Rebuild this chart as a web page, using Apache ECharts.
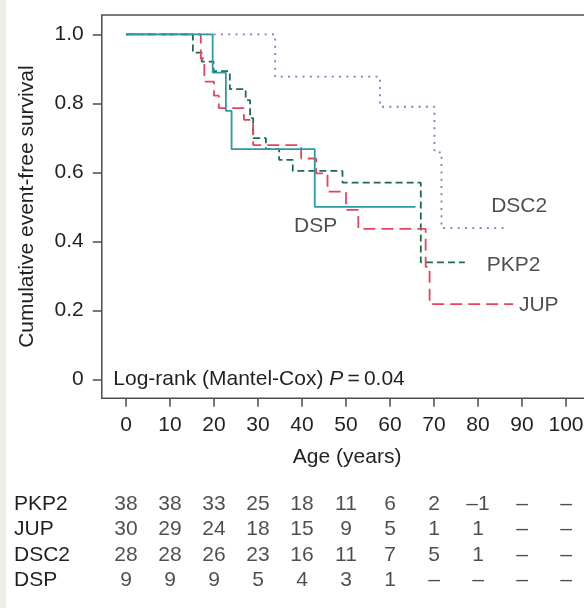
<!DOCTYPE html>
<html><head><meta charset="utf-8">
<script src="https://cdn.jsdelivr.net/npm/echarts@6/dist/echarts.min.js"></script>
<style>html,body{margin:0;padding:0;background:#fff}#c{width:584px;height:608px}</style>
</head><body><div id="c"></div>
<script>
// ---- data ----
const xTicks = [0, 10, 20, 30, 40, 50, 60, 70, 80, 90, 100];
const yTicks = [0, 0.2, 0.4, 0.6, 0.8, 1.0];
const groups = ['PKP2', 'JUP', 'DSC2', 'DSP'];
// Kaplan-Meier steps: [age, survival]
const pkp2 = [[0,1],[15.2,0.947],[17.2,0.921],[19.9,0.893],[23.6,0.841],[27.2,0.809],[28.2,0.757],[28.9,0.699],[31.8,0.667],[34.8,0.636],[37.9,0.604],[49.2,0.570],[67.0,0.339],[77.0,0.339]];
const jup = [[0,1],[17.0,0.930],[17.8,0.863],[20.0,0.822],[21.1,0.786],[26.8,0.752],[28.9,0.679],[39.8,0.640],[43.2,0.597],[45.8,0.544],[50.0,0.491],[52.8,0.436],[68.1,0.326],[69.0,0.218],[88.0,0.218]];
const dsc2 = [[0,1],[33.9,0.877],[57.7,0.790],[70.1,0.658],[71.7,0.438],[85.8,0.438]];
const dsp = [[0,1],[19.7,0.889],[22.7,0.778],[24.0,0.667],[42.9,0.500],[65.8,0.500]];
// numbers at risk per age column
const riskPKP2 = ['38','38','33','25','18','11','6','2','\u20131','\u2013','\u2013'];
const riskJUP  = ['30','29','24','18','15','9','5','1','1','\u2013','\u2013'];
const riskDSC2 = ['28','28','26','23','16','11','7','5','1','\u2013','\u2013'];
const riskDSP  = ['9','9','9','5','4','3','1','\u2013','\u2013','\u2013','\u2013'];
const riskRows = [riskPKP2, riskJUP, riskDSC2, riskDSP];
const pValueText = '0.04';

// ---- chart ----
const FONT = '"Liberation Sans", Arial, Helvetica, sans-serif';
const TXT = '#231f20';
const AX = '#4d4d4d';
const chart = echarts.init(document.getElementById('c'), null, {renderer: 'canvas'});

const curveLabels = [
  {value: [83.0, 0.502], name: 'DSC2'},
  {value: [82.0, 0.331], name: 'PKP2'},
  {value: [89.3, 0.216], name: 'JUP'},
  {value: [38.2, 0.444], name: 'DSP'}
];

const tableData = [];
riskRows.forEach((row, r) => {
  row.forEach((t, c) => tableData.push([xTicks[c], groups[r], t]));
});

function km(name, data, color, type, width) {
  return {
    name, type: 'line', data, step: 'end', symbol: 'none', xAxisIndex: 0, yAxisIndex: 0,
    lineStyle: {color, type, width}, itemStyle: {color}, silent: true, z: 3
  };
}

chart.setOption({
  animation: false,
  backgroundColor: '#ffffff',
  textStyle: {fontFamily: FONT, color: TXT},
  grid: [
    {left: 101.8, top: 15, width: 490.6, height: 383.3, show: true, borderColor: AX, borderWidth: 1.5,
     backgroundColor: 'transparent', containLabel: false, outerBoundsMode: 'none'},
    {left: 101.8, top: 491, width: 490.6, height: 102, show: false, containLabel: false, outerBoundsMode: 'none'}
  ],
  xAxis: [
    {type: 'value', gridIndex: 0, min: -5.5, max: 106, position: 'bottom',
     name: 'Age (years)', nameLocation: 'middle', nameGap: 48,
     nameTextStyle: {fontSize: 21, color: TXT, fontFamily: FONT},
     axisLine: {show: false, onZero: false},
     axisTick: {show: true, inside: false, customValues: xTicks, length: 8.5, lineStyle: {color: AX, width: 1.5}},
     axisLabel: {customValues: xTicks, fontSize: 21, color: TXT, margin: 16, fontFamily: FONT},
     splitLine: {show: false}},
    {type: 'value', gridIndex: 1, min: -5.5, max: 106, show: false}
  ],
  yAxis: [
    {type: 'value', gridIndex: 0, min: -0.0551, max: 1.0559, position: 'left',
     name: 'Cumulative event-free survival', nameLocation: 'middle', nameGap: 64,
     nameTextStyle: {fontSize: 21, color: TXT, fontFamily: FONT},
     axisLine: {show: false, onZero: false},
     axisTick: {show: true, inside: false, customValues: yTicks, length: 9, lineStyle: {color: AX, width: 1.5}},
     axisLabel: {customValues: yTicks, fontSize: 21, color: TXT, margin: 18, fontFamily: FONT,
       formatter: v => (Math.abs(v) < 1e-9 ? '0' : v.toFixed(1))},
     splitLine: {show: false}},
    {type: 'category', gridIndex: 1, data: groups, inverse: true,
     axisLine: {show: false, onZero: false}, axisTick: {show: false}, splitLine: {show: false},
     axisLabel: {show: true, interval: 0, align: 'left', margin: 87.8, fontSize: 21, color: TXT, fontFamily: FONT}}
  ],
  series: [
    km('DSC2', dsc2, '#8378c0', [2, 5.3], 1.8),
    km('PKP2', pkp2, '#1e6b4c', [7, 4], 1.8),
    km('JUP', jup, '#e8435d', [12, 6], 1.8),
    km('DSP', dsp, '#2c9aa3', 'solid', 1.8),
    {name: 'curve labels', type: 'scatter', xAxisIndex: 0, yAxisIndex: 0, data: curveLabels,
     symbolSize: 0, silent: true, z: 4,
     label: {show: true, position: 'right', distance: 0, formatter: p => p.name,
             fontSize: 21, color: TXT, fontFamily: FONT, verticalAlign: 'middle'}},
    {name: 'at risk', type: 'scatter', xAxisIndex: 1, yAxisIndex: 1, data: tableData,
     symbolSize: 0, silent: true,
     label: {show: true, position: 'inside', formatter: p => p.value[2],
             fontSize: 21, color: TXT, fontFamily: FONT, align: 'center', verticalAlign: 'middle'}}
  ],
  graphic: [
    {type: 'rect', left: 0, top: 0, shape: {width: 6, height: 608}, style: {fill: '#eeeee2'}, silent: true},
    {type: 'text', x: 113.3, y: 379, silent: true, z: 10,
     style: {
       text: '{a|Log-rank (Mantel-Cox) }{i|P}{a|\u2009=\u2009' + pValueText + '}',
       verticalAlign: 'middle',
       rich: {
         a: {fontSize: 21, fontFamily: FONT, fill: TXT, color: TXT},
         i: {fontSize: 21, fontFamily: FONT, fontStyle: 'italic', fill: TXT, color: TXT}
       }
     }}
  ]
});
</script>
</body></html>
